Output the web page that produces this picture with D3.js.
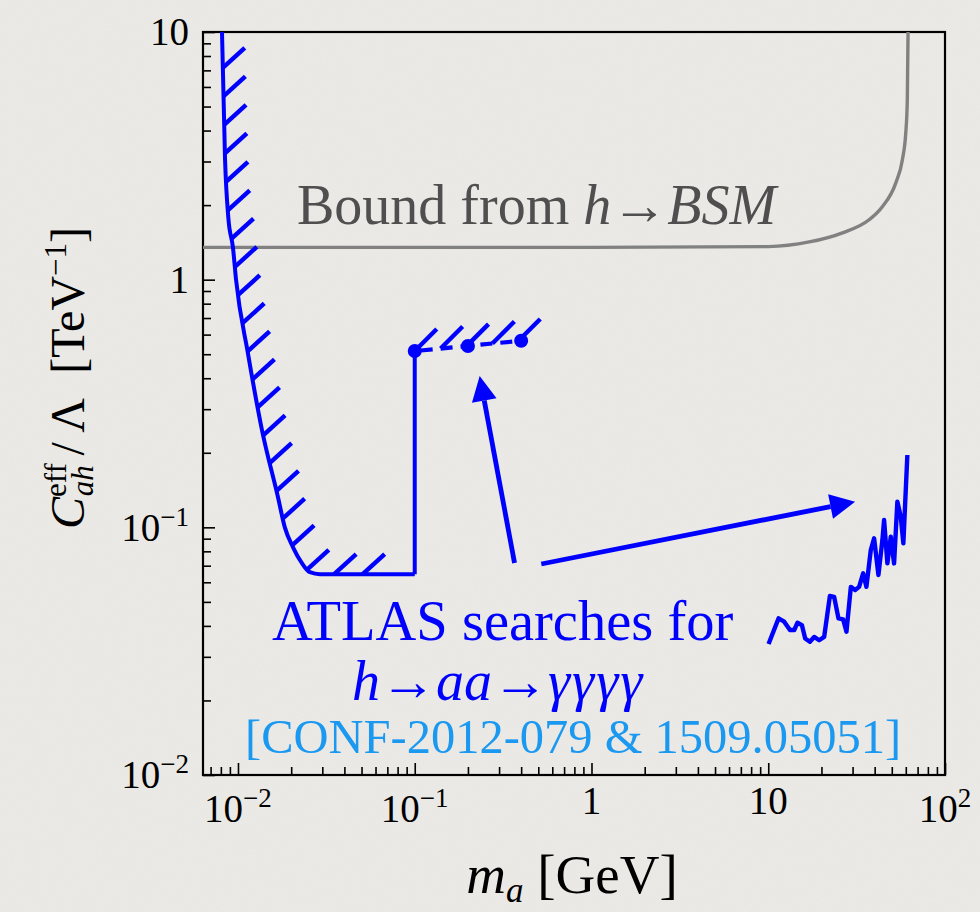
<!DOCTYPE html>
<html>
<head>
<meta charset="utf-8">
<title>ATLAS h -> aa -> 4 photons bound</title>
<script src="https://cdn.jsdelivr.net/npm/d3@7"></script>
<style>
  body { margin: 0; background: #eae8e4; }
  svg { display: block; font-family: "Liberation Serif", "Times New Roman", serif; }
</style>
</head>
<body>
<svg width="980" height="912"></svg>
<script>
// ---- data ----
// low-mass ATLAS bound (hatched curve)
var lowMass     = [0.00812, 0.00845, 0.00882, 0.00937, 0.00975, 0.01138, 0.01367, 0.01683, 0.01841, 0.02045, 0.0230, 0.0255, 0.0291, 0.1];
var lowCoupling = [10, 3.05, 1.777, 1.345, 1.0, 0.505, 0.247, 0.1326, 0.1, 0.0832, 0.0717, 0.0659, 0.0647, 0.0647];
// vertical step at m = 0.1 GeV
var stepMass     = [0.1, 0.1];
var stepCoupling = [0.0647, 0.515];
// three points joined by a dashed line
var dotMass     = [0.1, 0.2, 0.4];
var dotCoupling = [0.515, 0.540, 0.567];
// high-mass ATLAS bound (1509.05051)
var highMass = [10.04, 11.44, 12.31, 13.27, 14.03, 14.64, 15.50, 16.18, 17.20, 18.19, 19.42, 20.72, 22.32, 23.60,
                24.96, 26.53, 27.70, 29.33, 31.01, 32.67, 34.42, 35.93, 38.03, 39.71, 42.01, 44.24, 45.23, 47.21,
                49.34, 51.51, 53.77, 56.20, 58.13, 61.24];
var highCoupling = [0.0338, 0.0429, 0.0416, 0.0385, 0.0385, 0.0412, 0.0403, 0.0356, 0.0345, 0.0361, 0.0350, 0.0361, 0.0528, 0.0524,
                    0.0429, 0.0425, 0.0379, 0.0575, 0.0558, 0.0575, 0.0652, 0.0575, 0.0810, 0.0903, 0.0642, 0.0888, 0.1070, 0.0715,
                    0.0916, 0.0715, 0.1269, 0.1104, 0.0862, 0.1959];
// h -> BSM bound (grey)
var bsmMass     = [0.00634, 1, 10, 17.05, 26.3, 37.2, 44.2, 52.7, 57.4, 60.0, 61.2, 61.8];
var bsmCoupling = [1.35, 1.35, 1.36, 1.42, 1.546, 1.745, 1.97, 2.46, 3.05, 3.92, 5.33, 10];
// annotation arrows [from, to]
var arrowFromMass = [0.367, 0.520], arrowFromCoupling = [0.0718, 0.0711];
var arrowToMass   = [0.233, 31.0],  arrowToCoupling   = [0.4087, 0.1269];

// ticks
var xTickValues = [0.01, 0.1, 1, 10, 100];
var xTickBase = ["10", "10", "1", "10", "10"];
var xTickSup  = ["\u22122", "\u22121", "", "", "2"];
var yTickValues = [0.01, 0.1, 1, 10];
var yTickBase = ["10", "10", "1", "10"];
var yTickSup  = ["\u22122", "\u22121", "", ""];

var svg = d3.select("svg"),
    pLeft = 203, pRight = 945, pTop = 32, pBottom = 775;

var x = d3.scaleLog().domain([0.00634, 100]).range([pLeft, pRight]);
var y = d3.scaleLog().domain([0.01, 10]).range([pBottom, pTop]);

// paper-ish texture
var defs = svg.append("defs");
var f = defs.append("filter").attr("id", "paper").attr("x", 0).attr("y", 0).attr("width", "100%").attr("height", "100%");
f.append("feTurbulence").attr("type", "fractalNoise").attr("baseFrequency", 0.9).attr("numOctaves", 2).attr("seed", 3);
f.append("feColorMatrix").attr("type", "matrix")
  .attr("values", "0 0 0 0 0.45  0 0 0 0 0.44  0 0 0 0 0.42  0 0 0 0.08 0");
defs.append("clipPath").attr("id", "plot").append("rect")
  .attr("x", pLeft).attr("y", pTop).attr("width", pRight - pLeft).attr("height", pBottom - pTop);

svg.append("rect").attr("width", 980).attr("height", 912).attr("fill", "#ecebe7");
svg.append("rect").attr("width", 980).attr("height", 912).attr("filter", "url(#paper)");

// minor tick values
function minors(lo, hi) {
  var out = [];
  for (var d = 0.001; d < 1000; d *= 10)
    for (var k = 2; k <= 9; k++) {
      var v = +(k * d).toPrecision(3);
      if (v > lo && v < hi) out.push(v);
    }
  return out;
}

// axes (ticks pointing inwards, left + bottom only)
var xAxisG = svg.append("g").attr("transform", "translate(0," + pBottom + ")");
xAxisG.append("g").call(d3.axisBottom(x).tickValues(minors(0.00634, 100)).tickSize(-8).tickFormat(""));
xAxisG.append("g").call(d3.axisBottom(x).tickValues(xTickValues).tickSize(-12).tickFormat(""));
var yAxisG = svg.append("g").attr("transform", "translate(" + pLeft + ",0)");
yAxisG.append("g").call(d3.axisLeft(y).tickValues(minors(0.01, 10)).tickSize(-8).tickFormat(""));
yAxisG.append("g").call(d3.axisLeft(y).tickValues(yTickValues).tickSize(-12).tickFormat(""));
svg.selectAll(".domain").remove();
svg.selectAll(".tick line").attr("stroke", "#000").attr("stroke-width", 1.6);

svg.append("rect")
  .attr("x", pLeft).attr("y", pTop).attr("width", pRight - pLeft).attr("height", pBottom - pTop)
  .attr("fill", "none").attr("stroke", "#000").attr("stroke-width", 2.2);

// tick labels
var xl = svg.append("g").attr("font-size", 39).attr("text-anchor", "middle");
xTickValues.forEach(function(v, i) {
  var t = xl.append("text").attr("x", x(v)).attr("y", xTickSup[i] ? 822 : 814).text(xTickBase[i]);
  if (xTickSup[i]) t.append("tspan").attr("font-size", 27).attr("dy", -15).text(xTickSup[i]);
});
var yl = svg.append("g").attr("font-size", 39).attr("text-anchor", "end");
yTickValues.forEach(function(v, i) {
  var t = yl.append("text").attr("x", pLeft - 14).attr("y", y(v)).attr("dy", "0.34em").text(yTickBase[i]);
  if (yTickSup[i]) t.append("tspan").attr("font-size", 27).attr("dy", -15).text(yTickSup[i]);
});

// axis titles
var xt = svg.append("text").attr("x", 572).attr("y", 893).attr("text-anchor", "middle").attr("font-size", 55);
xt.append("tspan").attr("font-style", "italic").text("m");
xt.append("tspan").attr("font-style", "italic").attr("font-size", 35).attr("dy", 9).text("a");
xt.append("tspan").attr("dy", -9).text(" [GeV]");

var yt = svg.append("text").attr("transform", "translate(84,378)rotate(-90)").attr("text-anchor", "middle").attr("font-size", 48);
yt.append("tspan").attr("font-style", "italic").text("C");
yt.append("tspan").attr("font-size", 31).attr("dy", -18).text("eff");
yt.append("tspan").attr("font-size", 31).attr("font-style", "italic").attr("dx", -33).attr("dy", 27).text("ah");
yt.append("tspan").attr("dy", -9).text("\u2009/\u2009\u039B\u2002[TeV");
yt.append("tspan").attr("font-size", 31).attr("dy", -18).text("\u22121");
yt.append("tspan").attr("dy", 18).text("]");

// curves
var plot = svg.append("g").attr("clip-path", "url(#plot)");
function pts(xs, ys) { return xs.map(function(v, i) { return [v, ys[i]]; }); }
var line = d3.line().x(function(d) { return x(d[0]); }).y(function(d) { return y(d[1]); });

plot.append("path").datum(pts(bsmMass, bsmCoupling))
  .attr("d", line.curve(d3.curveMonotoneX))
  .attr("fill", "none").attr("stroke", "#818181").attr("stroke-width", 3.4);

var low = plot.append("path").datum(pts(lowMass, lowCoupling))
  .attr("d", line.curve(d3.curveMonotoneX))
  .attr("fill", "none").attr("stroke", "#0000ff").attr("stroke-width", 4);
plot.append("path").datum(pts(stepMass, stepCoupling))
  .attr("d", line.curve(d3.curveLinear))
  .attr("fill", "none").attr("stroke", "#0000ff").attr("stroke-width", 4);
var dash = plot.append("path").datum(pts(dotMass, dotCoupling))
  .attr("d", line.curve(d3.curveLinear))
  .attr("fill", "none").attr("stroke", "#0000ff").attr("stroke-width", 4.2).attr("stroke-dasharray", "12,8").attr("stroke-dashoffset", -6);
plot.append("path").datum(pts(highMass, highCoupling))
  .attr("d", line.curve(d3.curveLinear))
  .attr("fill", "none").attr("stroke", "#0000ff").attr("stroke-width", 4.4).attr("stroke-linejoin", "round");

// hatching sampled along a drawn path
function hatch(node, start, step, stopX, dx, dy, w) {
  var L = node.getTotalLength(), segs = [];
  for (var s = start; s <= L + 0.5; s += step) {
    var p = node.getPointAtLength(Math.min(s, L));
    if (p.x > stopX) break;
    segs.push([p.x, p.y]);
  }
  plot.append("g").selectAll("line").data(segs).enter().append("line")
    .attr("x1", function(d) { return d[0]; }).attr("y1", function(d) { return d[1]; })
    .attr("x2", function(d) { return d[0] + dx; }).attr("y2", function(d) { return d[1] + dy; })
    .attr("stroke", "#0000ff").attr("stroke-width", w);
}
hatch(low.node(), 36, 28.5, x(0.052), 22, -20, 4.4);
hatch(dash.node(), 0, 26, 1e9, 22, -22, 4.4);

plot.append("g").selectAll("circle").data(pts(dotMass, dotCoupling)).enter().append("circle")
  .attr("cx", function(d) { return x(d[0]); }).attr("cy", function(d) { return y(d[1]); })
  .attr("r", 7).attr("fill", "#0000ff");

// arrows
arrowFromMass.forEach(function(m, i) {
  var x0 = x(m), y0 = y(arrowFromCoupling[i]), x1 = x(arrowToMass[i]), y1 = y(arrowToCoupling[i]);
  var a = Math.atan2(y1 - y0, x1 - x0), hl = 25, hw = 12.5;
  var bx = x1 - hl * Math.cos(a), by = y1 - hl * Math.sin(a);
  svg.append("line").attr("x1", x0).attr("y1", y0).attr("x2", bx).attr("y2", by)
    .attr("stroke", "#0000ff").attr("stroke-width", 4.8);
  svg.append("polygon")
    .attr("points", [[x1, y1], [bx - hw * Math.sin(a), by + hw * Math.cos(a)], [bx + hw * Math.sin(a), by - hw * Math.cos(a)]].join(" "))
    .attr("fill", "#0000ff");
});

// labels
var b = svg.append("text").attr("x", 297).attr("y", 224).attr("font-size", 56).attr("fill", "#4f4f4f");
b.append("tspan").text("Bound from ");
b.append("tspan").attr("font-style", "italic").text("h");
b.append("tspan").attr("font-weight", "bold").text("\u2192");
b.append("tspan").attr("font-style", "italic").text("BSM");

svg.append("text").attr("x", 272).attr("y", 640).attr("font-size", 56.5).attr("fill", "#0000ff").text("ATLAS searches for");
var g4 = svg.append("text").attr("x", 352).attr("y", 700).attr("font-size", 56).attr("fill", "#0000ff").attr("font-style", "italic");
g4.append("tspan").text("h");
g4.append("tspan").attr("font-style", "normal").attr("font-weight", "bold").text("\u2192");
g4.append("tspan").text("aa");
g4.append("tspan").attr("font-style", "normal").attr("font-weight", "bold").text("\u2192");
g4.append("tspan").attr("letter-spacing", 2).text("\u03B3\u03B3\u03B3\u03B3");
svg.append("text").attr("x", 245).attr("y", 753).attr("font-size", 48.5).attr("fill", "#1b98f0")
  .text("[CONF-2012-079 & 1509.05051]");
</script>
</body>
</html>
